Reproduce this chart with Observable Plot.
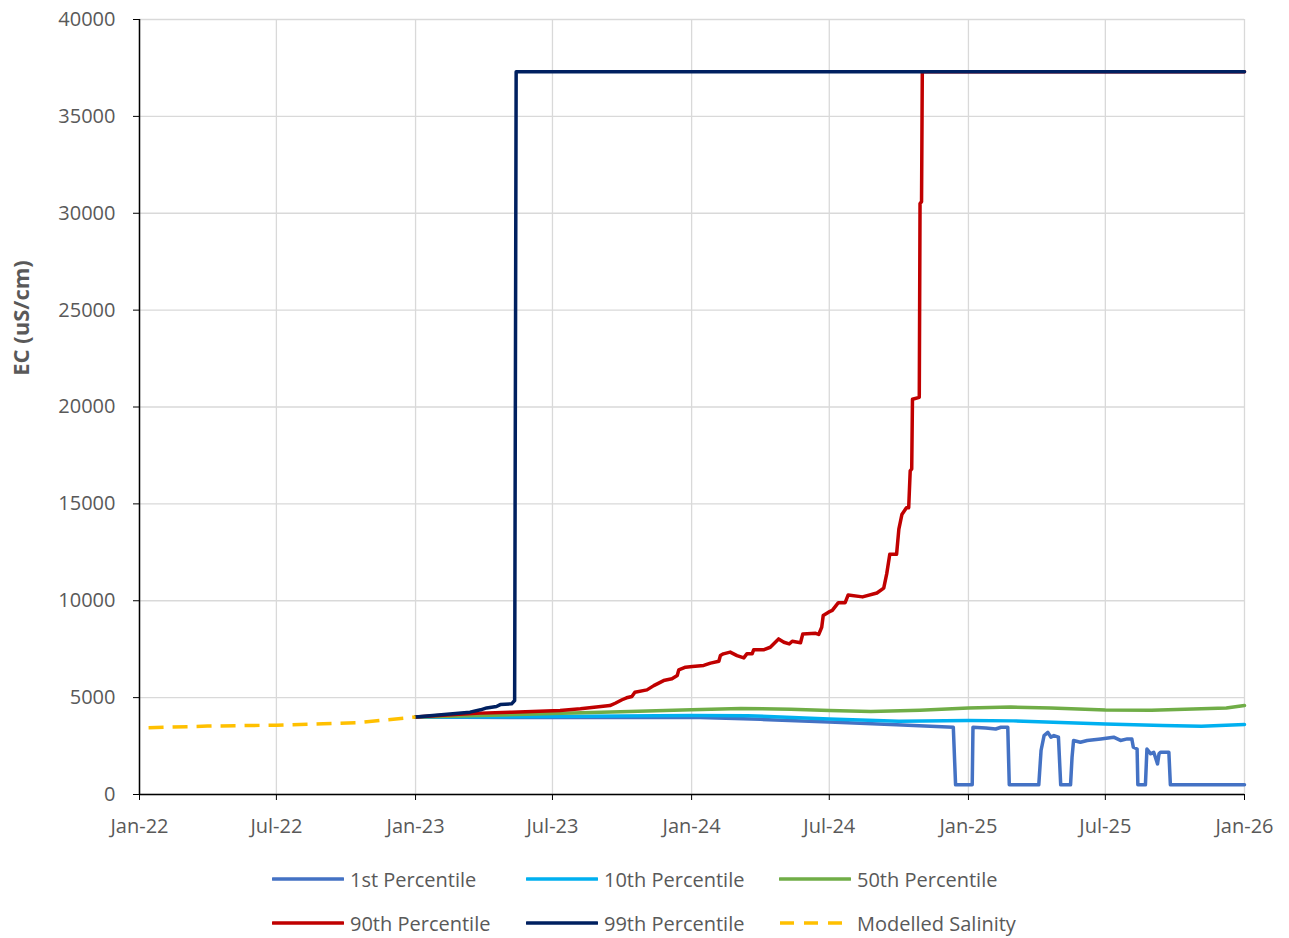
<!DOCTYPE html>
<html><head><meta charset="utf-8">
<script src="https://cdn.jsdelivr.net/npm/d3@7"></script>
<script src="https://cdn.jsdelivr.net/npm/@observablehq/plot@0.6"></script>
<style>
body{margin:0;background:#fff;font-family:"Open Sans",sans-serif;}
#wrap{position:relative;width:1289px;height:938px;overflow:hidden;}
#chart svg g[aria-label="x-axis tick"], #chart svg g[aria-label="y-axis tick"]{stroke:#000;}
#chart svg g[aria-label="x-axis tick label"], #chart svg g[aria-label="y-axis tick label"]{fill:#595959;}
.leg{position:absolute;height:30px;display:flex;align-items:center;font-size:20px;color:#595959;white-space:nowrap;}
.leg svg{margin-right:6px;}
</style></head><body>
<div id="wrap"><div id="chart"></div><div id="legend"></div></div>
<script>
// ---- data ----
const seriesNames = ["1st Percentile","10th Percentile","50th Percentile","90th Percentile","99th Percentile","Modelled Salinity"];
const seriesColors = ["#4472C4","#00B0F0","#70AD47","#C00000","#002060","#FFC000"];

const xTickDates = ["2022-01-01","2022-07-01","2023-01-01","2023-07-01","2024-01-01","2024-07-01","2025-01-01","2025-07-01","2026-01-01"];
const yTickValues = [0,5000,10000,15000,20000,25000,30000,35000,40000];

const p1Dates = ["2023-01-01","2023-07-01","2024-01-01","2024-04-01","2024-07-01","2024-09-28","2024-12-12","2024-12-15","2025-01-06","2025-01-07","2025-01-24","2025-02-06","2025-02-13","2025-02-22","2025-02-24","2025-04-04","2025-04-07","2025-04-11","2025-04-16","2025-04-20","2025-04-24","2025-04-30","2025-05-03","2025-05-16","2025-05-18","2025-05-20","2025-05-29","2025-06-07","2025-06-25","2025-07-12","2025-07-21","2025-07-30","2025-08-05","2025-08-07","2025-08-12","2025-08-13","2025-08-23","2025-08-25","2025-08-30","2025-09-03","2025-09-08","2025-09-10","2025-09-12","2025-09-23","2025-09-25","2026-01-01"];
const p1Values = [4000,3970,3990,3880,3740,3600,3470,500,500,3470,3430,3380,3470,3470,500,500,2270,3040,3210,2960,3040,2960,500,500,1930,2790,2700,2790,2870,2960,2790,2870,2870,2440,2350,500,500,2350,2100,2180,1580,2100,2180,2180,500,500];

const p10Dates = ["2023-01-01","2023-07-01","2024-01-01","2024-03-15","2024-07-01","2024-10-01","2025-01-01","2025-03-01","2025-07-01","2025-09-15","2025-11-05","2026-01-01"];
const p10Values = [4000,4020,4080,4070,3900,3780,3820,3800,3640,3560,3520,3610];

const p50Dates = ["2023-01-01","2023-03-28","2023-07-01","2023-09-29","2024-01-01","2024-03-06","2024-05-11","2024-07-01","2024-08-25","2024-10-29","2025-01-01","2025-02-26","2025-04-20","2025-07-01","2025-08-31","2025-11-05","2025-12-08","2026-01-01"];
const p50Values = [4000,4080,4180,4270,4380,4440,4400,4330,4280,4350,4460,4510,4470,4360,4350,4420,4460,4590];

const p90Dates = ["2023-01-01","2023-02-16","2023-03-28","2023-05-08","2023-07-11","2023-08-07","2023-09-15","2023-09-22","2023-10-01","2023-10-07","2023-10-14","2023-10-18","2023-11-03","2023-11-12","2023-11-25","2023-12-06","2023-12-13","2023-12-15","2023-12-24","2024-01-02","2024-01-17","2024-01-26","2024-02-06","2024-02-08","2024-02-12","2024-02-21","2024-03-01","2024-03-10","2024-03-14","2024-03-21","2024-03-23","2024-04-05","2024-04-14","2024-04-25","2024-05-02","2024-05-09","2024-05-13","2024-05-24","2024-05-27","2024-06-13","2024-06-17","2024-06-21","2024-06-23","2024-06-30","2024-07-05","2024-07-13","2024-07-22","2024-07-26","2024-08-14","2024-09-02","2024-09-11","2024-09-15","2024-09-19","2024-09-28","2024-10-01","2024-10-05","2024-10-11","2024-10-14","2024-10-16","2024-10-18","2024-10-19","2024-10-28","2024-10-29","2024-10-31","2024-11-01","2026-01-01"];
const p90Values = [4000,4120,4200,4250,4340,4420,4590,4710,4890,4990,5060,5280,5400,5620,5880,5970,6140,6430,6570,6610,6660,6780,6880,7170,7260,7350,7170,7050,7260,7260,7470,7470,7600,8030,7860,7770,7910,7830,8290,8320,8260,8630,9240,9410,9500,9900,9900,10300,10200,10400,10650,11400,12400,12400,13700,14450,14800,14800,16700,16800,20400,20500,30500,30600,37300,37300];

const p99Dates = ["2023-01-01","2023-03-14","2023-03-28","2023-04-05","2023-04-18","2023-04-23","2023-05-08","2023-05-12","2023-05-14","2026-01-01"];
const p99Values = [4000,4250,4370,4470,4540,4640,4680,4850,37300,37300];

const modelDates = ["2022-01-13","2022-04-01","2022-07-01","2022-09-01","2022-10-15","2022-11-15","2023-01-01"];
const modelValues = [3450,3530,3580,3650,3700,3820,4000];

// ---- build tables ----
const allSeries = [
  [p1Dates,p1Values],[p10Dates,p10Values],[p50Dates,p50Values],
  [p90Dates,p90Values],[p99Dates,p99Values],[modelDates,modelValues]
];
const tables = allSeries.map(([ds,vs]) => ds.map((d,i) => ({date:new Date(d), value:vs[i]})));

const marks = [
  Plot.gridY(yTickValues, {stroke:"#d9d9d9", strokeOpacity:1, strokeWidth:1.3}),
  Plot.gridX(xTickDates.map(d=>new Date(d)), {stroke:"#d9d9d9", strokeOpacity:1, strokeWidth:1.3}),
  Plot.axisY(yTickValues, {tickSize:6, tickPadding:18, tickFormat:d=>String(d), label:null}),
  Plot.axisX(xTickDates.map(d=>new Date(d)), {tickSize:6, tickPadding:18, tickFormat:d3.utcFormat("%b-%y"), label:null}),
];
tables.forEach((t,i) => {
  const isModel = i === 5;
  marks.push(Plot.line(t, {
    x:"date", y:"value", stroke:seriesColors[i], strokeWidth:3.5,
    strokeLinejoin:"round", strokeLinecap: isModel ? "butt" : "round",
    strokeDasharray: isModel ? "15,9" : null
  }));
});
marks.push(Plot.ruleX([new Date(xTickDates[0])], {stroke:"#000", strokeWidth:1.5}));
marks.push(Plot.ruleY([0], {stroke:"#000", strokeWidth:1.5}));

const chart = Plot.plot({
  width:1289, height:850,
  marginLeft:139, marginRight:45, marginTop:19, marginBottom:56,
  x:{type:"utc", domain:[new Date(xTickDates[0]), new Date(xTickDates[xTickDates.length-1])]},
  y:{domain:[0,40000]},
  style:{fontFamily:"'Open Sans', sans-serif", fontSize:"20px", color:"#595959", background:"#fff", overflow:"visible"},
  marks
});
d3.select(chart).append("text")
  .attr("transform","translate(23,318) rotate(-90)")
  .attr("text-anchor","middle").attr("dominant-baseline","middle")
  .attr("font-weight","bold").attr("font-size","22px").attr("fill","#595959")
  .text("EC (uS/cm)");
document.getElementById("chart").appendChild(chart);

// ---- legend ----
const legX = [272, 526, 779];
const legY = [879, 923];
const legend = document.getElementById("legend");
seriesNames.forEach((name,i) => {
  const div = document.createElement("div");
  div.className = "leg";
  div.style.left = legX[i%3] + "px";
  div.style.top = (legY[Math.floor(i/3)] - 15) + "px";
  const dash = i === 5 ? 'stroke-dasharray="14,10"' : '';
  div.innerHTML = `<svg width="72" height="8"><line x1="1" y1="4" x2="71" y2="4" stroke="${seriesColors[i]}" stroke-width="3.5" ${dash} stroke-linecap="${i===5?'butt':'round'}"/></svg><span>${name}</span>`;
  legend.appendChild(div);
});
</script>
</body></html>
